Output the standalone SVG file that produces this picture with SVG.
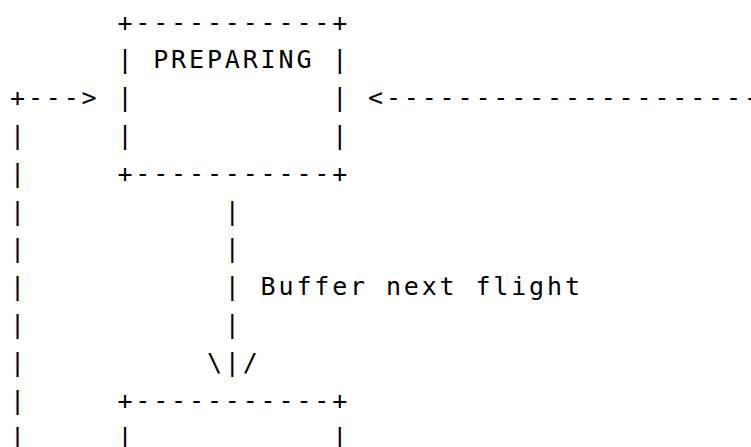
<svg xmlns="http://www.w3.org/2000/svg" width="751" height="447" viewBox="0 0 751 447">
<style>
text{font-family:"DejaVu Sans Mono","Liberation Mono",monospace;font-size:25px;letter-spacing:2.85px;fill:#000;white-space:pre}
</style>
<rect width="751" height="447" fill="#fff"/>
<g id="node-preparing">
<text x="117.4" y="30.5">+-----------+</text>
<text x="117.4" y="68.3">|</text>
<text x="153.2" y="68.3">PREPARING</text>
<text x="332.2" y="68.3">|</text>
<text x="117.4" y="106.1">|</text>
<text x="332.2" y="106.1">|</text>
<text x="117.4" y="143.9">|</text>
<text x="332.2" y="143.9">|</text>
<text x="117.4" y="181.7">+-----------+</text>
</g>
<g id="node-next">
<text x="117.4" y="408.5">+-----------+</text>
<text x="117.4" y="446.3">|</text>
<text x="332.2" y="446.3">|</text>
</g>
<g id="connectors">
<g id="loop-left">
<text x="10" y="106.1">+---&gt;</text>
<text x="10" y="143.9">|</text>
<text x="10" y="181.7">|</text>
<text x="10" y="219.5">|</text>
<text x="10" y="257.3">|</text>
<text x="10" y="295.1">|</text>
<text x="10" y="332.9">|</text>
<text x="10" y="370.7">|</text>
<text x="10" y="408.5">|</text>
<text x="10" y="446.3">|</text>
</g>
<g id="incoming-right">
<text x="368" y="106.1">&lt;----------------------</text>
</g>
<g id="buffer-next-flight">
<text x="224.8" y="219.5">|</text>
<text x="224.8" y="257.3">|</text>
<text x="224.8" y="295.1">|</text>
<text x="260.6" y="295.1">Buffer next flight</text>
<text x="224.8" y="332.9">|</text>
<text x="206.9" y="370.7">\|/</text>
</g>
</g>
</svg>
